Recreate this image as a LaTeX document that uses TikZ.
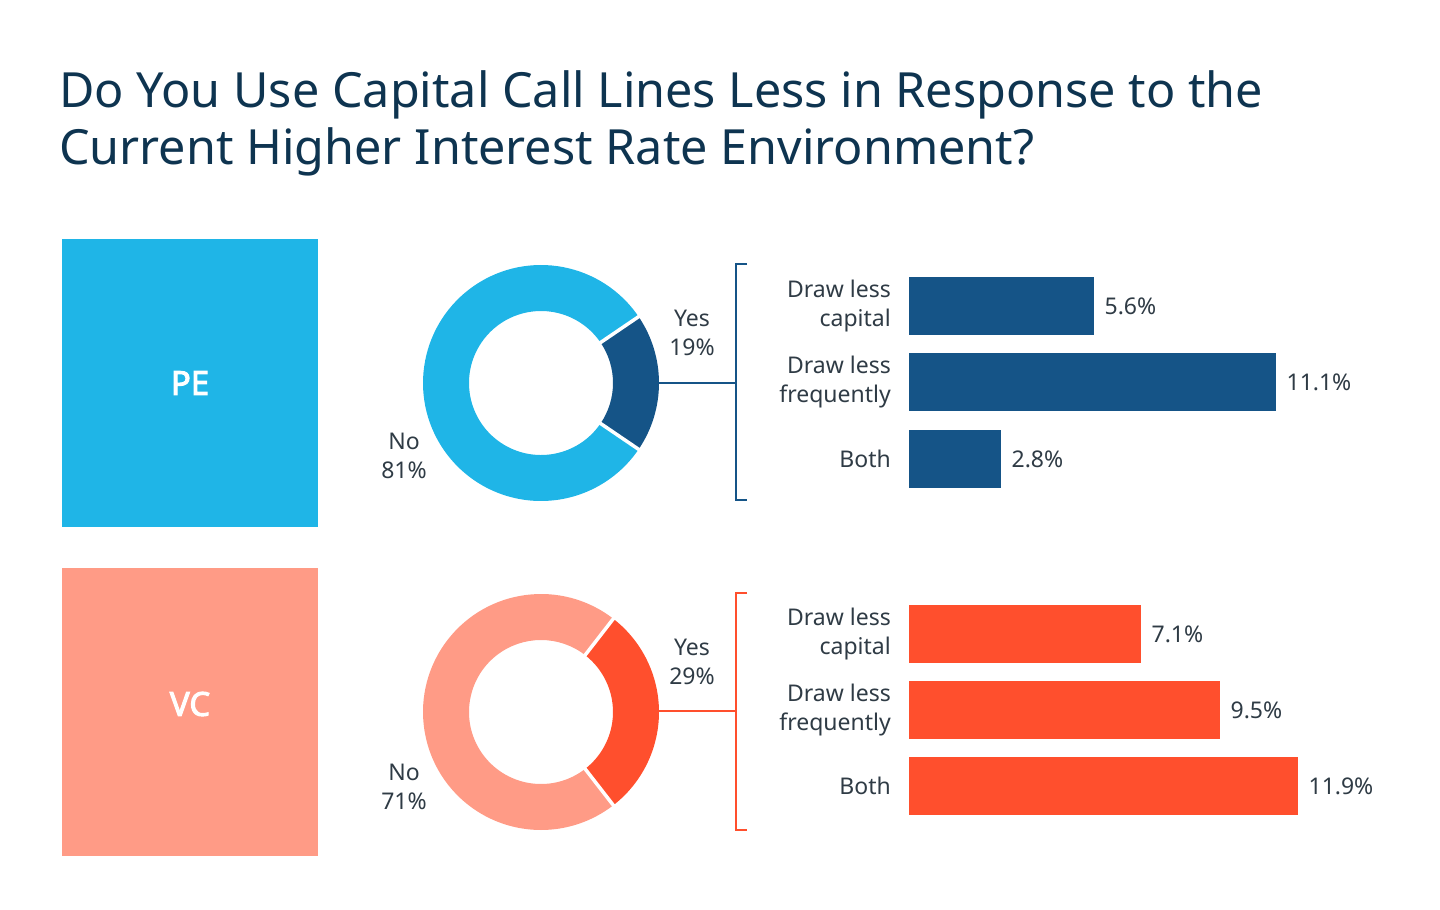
\documentclass[tikz,border=0pt]{standalone}
\usepackage{fontspec}
\setmainfont{Noto Sans}[AutoFakeBold=3]
\usetikzlibrary{positioning}
\definecolor{titlecol}{HTML}{0E3450}
\definecolor{textcol}{HTML}{2F3B45}
\definecolor{pelight}{HTML}{1FB5E7}
\definecolor{pedark}{HTML}{155487}
\definecolor{vclight}{HTML}{FF9B86}
\definecolor{vcdark}{HTML}{FF4F2D}
\tikzset{
  heading/.style={anchor=base west, inner sep=0pt, text=titlecol, font=\fontsize{48.5}{57}\selectfont},
  groupbox/.style={minimum width=256pt, minimum height=288pt, inner sep=0pt},
  boxtext/.style={inner sep=0pt, text=white, font=\fontsize{33}{40}\selectfont\bfseries},
  lbl/.style={inner sep=0pt, text=textcol, font=\fontsize{23}{29}\selectfont},
  bar/.style={anchor=west, minimum height=58pt, inner sep=0pt},
  bracket/.style={line width=2.5pt}
}
\begin{document}
\begin{tikzpicture}[x=1pt,y=-1pt]
  \useasboundingbox (0,0) rectangle (1440,910);
  \node[heading] (title1) at (59,107) {Do You Use Capital Call Lines Less in Response to the};
  \node[heading] (title2) at (59,164) {Current Higher Interest Rate Environment?};

  % group boxes
  \node[groupbox, fill=pelight] (pe) at (190,383) {};
  \node[groupbox, fill=vclight] (vc) at (190,712) {};
  \node[boxtext] (petext) at (190,383) {PE};
  \node[boxtext] (vctext) at (190,704) {VC};

  % PE donut
  \fill[pelight] (541,383) ++(34.2:118pt) arc[start angle=34.2, end angle=325.8, radius=118pt]
    -- ++(145.8:46pt) arc[start angle=325.8, end angle=34.2, radius=72pt] -- cycle;
  \fill[pedark] (541,383) ++(-34.2:118pt) arc[start angle=-34.2, end angle=34.2, radius=118pt]
    -- ++(214.2:46pt) arc[start angle=34.2, end angle=-34.2, radius=72pt] -- cycle;
  \draw[white, line width=3.5pt] (541,383) ++(34.2:70pt) -- ++(34.2:50pt);
  \draw[white, line width=3.5pt] (541,383) ++(-34.2:70pt) -- ++(-34.2:50pt);
  \node[lbl, align=center] (peyes) at (692,333) {Yes\\19\%};
  \node[lbl, align=center] (peno) at (404,456) {No\\81\%};

  % VC donut
  \fill[vclight] (541,712) ++(52.2:118pt) arc[start angle=52.2, end angle=307.8, radius=118pt]
    -- ++(127.8:46pt) arc[start angle=307.8, end angle=52.2, radius=72pt] -- cycle;
  \fill[vcdark] (541,712) ++(-52.2:118pt) arc[start angle=-52.2, end angle=52.2, radius=118pt]
    -- ++(232.2:46pt) arc[start angle=52.2, end angle=-52.2, radius=72pt] -- cycle;
  \draw[white, line width=3.5pt] (541,712) ++(52.2:70pt) -- ++(52.2:50pt);
  \draw[white, line width=3.5pt] (541,712) ++(-52.2:70pt) -- ++(-52.2:50pt);
  \node[lbl, align=center] (vcyes) at (692,662) {Yes\\29\%};
  \node[lbl, align=center] (vcno) at (404,787) {No\\71\%};

  % brackets
  \coordinate (peedge) at (659,383);
  \coordinate (pebrk) at (736,383);
  \coordinate (vcedge) at (659,711);
  \coordinate (vcbrk) at (736,711);
  \draw[bracket, pedark] (747,264) -| (736,500) -- (747,500);
  \draw[bracket, vcdark] (747,593) -| (736,830) -- (747,830);
  \draw[bracket, pedark] (peedge) -- (pebrk);
  \draw[bracket, vcdark] (vcedge) -- (vcbrk);

  % PE bars
  \node[bar, fill=pedark, minimum width=185pt] (pebar1) at (909,306) {};
  \node[bar, fill=pedark, minimum width=367pt] (pebar2) at (909,382) {};
  \node[bar, fill=pedark, minimum width=92pt] (pebar3) at (909,459) {};
  \node[lbl, align=right, left=18pt of pebar1] (pelbl1) {Draw less\\capital};
  \node[lbl, align=right, left=18pt of pebar2] (pelbl2) {Draw less\\frequently};
  \node[lbl, align=right, left=18pt of pebar3] (pelbl3) {Both};
  \node[lbl, right=10pt of pebar1] (peval1) {5.6\%};
  \node[lbl, right=10pt of pebar2] (peval2) {11.1\%};
  \node[lbl, right=10pt of pebar3] (peval3) {2.8\%};

  % VC bars
  \node[bar, fill=vcdark, minimum width=232pt] (vcbar1) at (909,634) {};
  \node[bar, fill=vcdark, minimum width=311pt] (vcbar2) at (909,710) {};
  \node[bar, fill=vcdark, minimum width=389pt] (vcbar3) at (909,786) {};
  \node[lbl, align=right, left=18pt of vcbar1] (vclbl1) {Draw less\\capital};
  \node[lbl, align=right, left=18pt of vcbar2] (vclbl2) {Draw less\\frequently};
  \node[lbl, align=right, left=18pt of vcbar3] (vclbl3) {Both};
  \node[lbl, right=10pt of vcbar1] (vcval1) {7.1\%};
  \node[lbl, right=10pt of vcbar2] (vcval2) {9.5\%};
  \node[lbl, right=10pt of vcbar3] (vcval3) {11.9\%};
\end{tikzpicture}
\end{document}
